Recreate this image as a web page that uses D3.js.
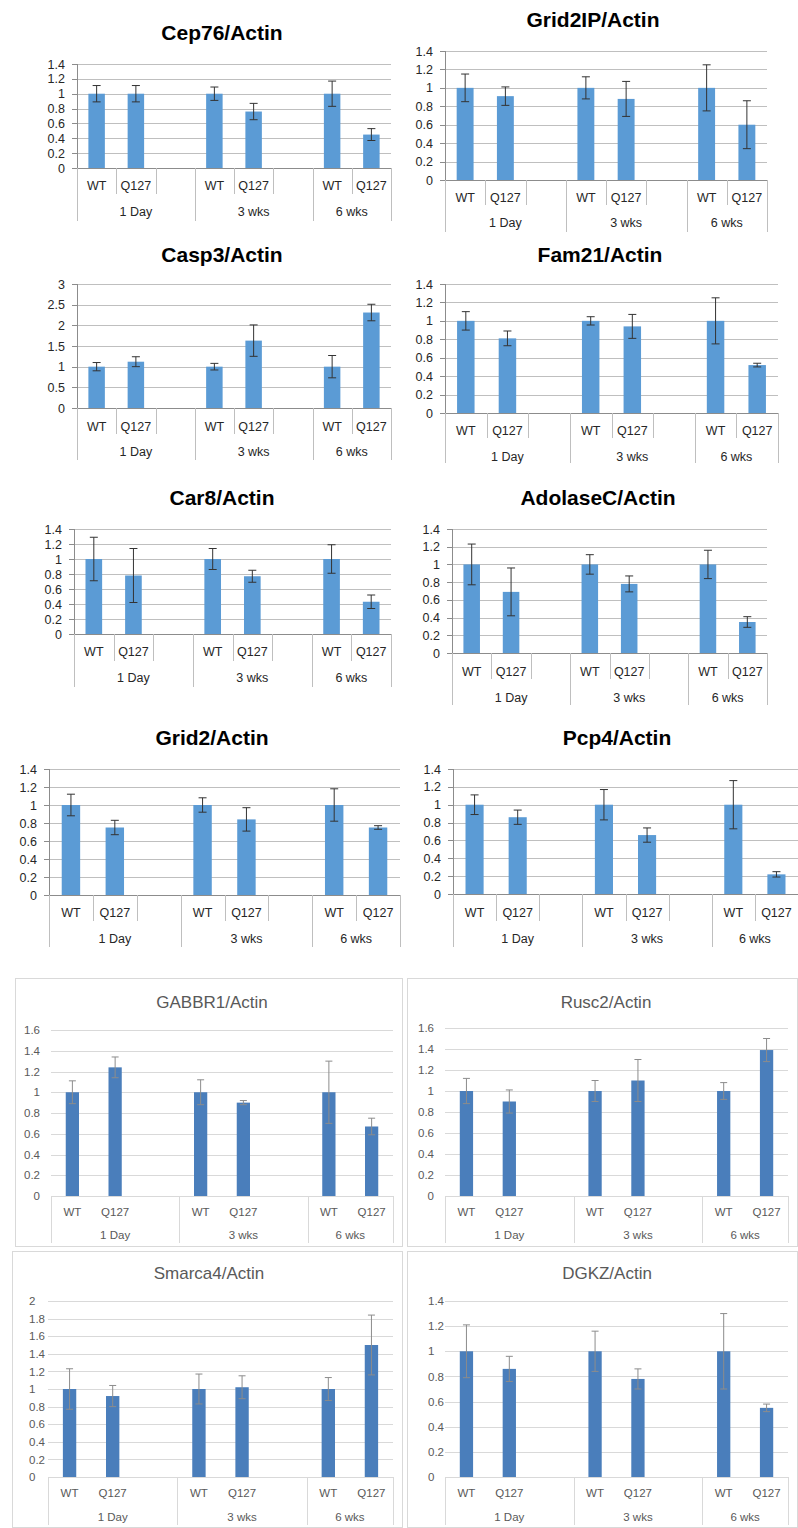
<!DOCTYPE html>
<html>
<head>
<meta charset="utf-8">
<script src="https://cdn.jsdelivr.net/npm/d3@7"></script>
<style>
  body { margin: 0; background: #fff; }
  text { font-family: "Liberation Sans", Arial, sans-serif; }
</style>
</head>
<body>
<svg id="fig" width="798" height="1528"></svg>
<script>
// Categories : 8 slots, the blank ones are Excel's empty columns
const categories = ["WT", "Q127", "", "WT", "Q127", "", "WT", "Q127"];
const timeGroups = ["1 Day", "3 wks", "6 wks"];
const groupSpans = [3, 3, 2];

// Values (WT, Q127) x (1 Day, 3 wks, 6 wks) and their error bars
const cep76 = [1.00, 1.00, 1.00, 0.76, 1.00, 0.45];
const cep76Err = [0.11, 0.11, 0.09, 0.11, 0.17, 0.08];
const grid2ip = [1.00, 0.91, 1.00, 0.88, 1.00, 0.60];
const grid2ipErr = [0.15, 0.10, 0.12, 0.19, 0.25, 0.26];
const casp3 = [1.00, 1.12, 1.00, 1.63, 1.00, 2.31];
const casp3Err = [0.10, 0.12, 0.08, 0.38, 0.27, 0.20];
const fam21 = [1.00, 0.81, 1.00, 0.94, 1.00, 0.52];
const fam21Err = [0.10, 0.08, 0.045, 0.13, 0.25, 0.02];
const car8 = [1.00, 0.78, 1.00, 0.77, 1.00, 0.43];
const car8Err = [0.29, 0.36, 0.14, 0.08, 0.19, 0.09];
const adolaseC = [1.00, 0.69, 1.00, 0.78, 1.00, 0.35];
const adolaseCErr = [0.23, 0.27, 0.11, 0.09, 0.16, 0.06];
const grid2 = [1.00, 0.75, 1.00, 0.84, 1.00, 0.75];
const grid2Err = [0.12, 0.08, 0.08, 0.13, 0.18, 0.02];
const pcp4 = [1.00, 0.86, 1.00, 0.66, 1.00, 0.22];
const pcp4Err = [0.11, 0.08, 0.17, 0.08, 0.27, 0.03];
const gabbr1 = [1.00, 1.24, 1.00, 0.90, 1.00, 0.67];
const gabbr1Err = [0.11, 0.10, 0.12, 0.02, 0.30, 0.08];
const rusc2 = [1.00, 0.90, 1.00, 1.10, 1.00, 1.39];
const rusc2Err = [0.12, 0.11, 0.10, 0.20, 0.08, 0.11];
const smarca4 = [1.00, 0.92, 1.00, 1.02, 1.00, 1.50];
const smarca4Err = [0.23, 0.12, 0.17, 0.13, 0.13, 0.34];
const dgkz = [1.00, 0.86, 1.00, 0.78, 1.00, 0.55];
const dgkzErr = [0.21, 0.10, 0.16, 0.08, 0.30, 0.03];

// slots that hold a bar
const barSlots = categories.map((c, i) => c ? i : -1).filter(i => i >= 0);

// Panel layout (old Excel style = "a", newer boxed style = "b")
const panels = [
  { title: "Cep76/Actin", v: cep76, e: cep76Err, max: 1.4, step: 0.2, kind: "a",
    left: 77, right: 391, top: 64, zero: 168, tx: 222, ty: 33, row1: 186, row2: 212, inner: 194, outer: 221 },
  { title: "Grid2IP/Actin", v: grid2ip, e: grid2ipErr, max: 1.4, step: 0.2, kind: "a",
    left: 445, right: 767, top: 51, zero: 180, tx: 593, ty: 20, row1: 198, row2: 223, inner: 205, outer: 232 },
  { title: "Casp3/Actin", v: casp3, e: casp3Err, max: 3, step: 0.5, kind: "a",
    left: 77, right: 391, top: 284, zero: 408, tx: 222, ty: 255, row1: 427, row2: 452, inner: 434, outer: 460 },
  { title: "Fam21/Actin", v: fam21, e: fam21Err, max: 1.4, step: 0.2, kind: "a",
    left: 445, right: 778, top: 284, zero: 413, tx: 600, ty: 255, row1: 431, row2: 457, inner: 438, outer: 463 },
  { title: "Car8/Actin", v: car8, e: car8Err, max: 1.4, step: 0.2, kind: "a",
    left: 74, right: 391, top: 529, zero: 634, tx: 222, ty: 498, row1: 652, row2: 678, inner: 661, outer: 687 },
  { title: "AdolaseC/Actin", v: adolaseC, e: adolaseCErr, max: 1.4, step: 0.2, kind: "a",
    left: 452, right: 767, top: 529, zero: 653, tx: 598, ty: 498, row1: 672, row2: 698, inner: 679, outer: 705 },
  { title: "Grid2/Actin", v: grid2, e: grid2Err, max: 1.4, step: 0.2, kind: "a",
    left: 49, right: 400, top: 769, zero: 895, tx: 212, ty: 738, row1: 913, row2: 939, inner: 921, outer: 947 },
  { title: "Pcp4/Actin", v: pcp4, e: pcp4Err, max: 1.4, step: 0.2, kind: "a",
    left: 453, right: 798, top: 769, zero: 894, tx: 617, ty: 738, row1: 913, row2: 939, inner: 921, outer: 947 },
  { title: "GABBR1/Actin", v: gabbr1, e: gabbr1Err, max: 1.6, step: 0.2, kind: "b",
    box: [15, 978, 402, 1246], left: 51, right: 393, top: 1030, zero: 1196, tx: 212, ty: 1002,
    row1: 1212, row2: 1235, outer: 1243, labelAnchor: "end", labelX: 40 },
  { title: "Rusc2/Actin", v: rusc2, e: rusc2Err, max: 1.6, step: 0.2, kind: "b",
    box: [407, 978, 797, 1246], left: 445, right: 788, top: 1028, zero: 1196, tx: 606, ty: 1002,
    row1: 1212, row2: 1235, outer: 1243, labelAnchor: "end", labelX: 433 },
  { title: "Smarca4/Actin", v: smarca4, e: smarca4Err, max: 2, step: 0.2, kind: "b",
    box: [12, 1251, 402, 1527], left: 48, right: 393, top: 1301, zero: 1477, tx: 209, ty: 1273,
    row1: 1493, row2: 1517, outer: 1525, labelAnchor: "start", labelX: 29 },
  { title: "DGKZ/Actin", v: dgkz, e: dgkzErr, max: 1.4, step: 0.2, kind: "b",
    box: [407, 1251, 797, 1527], left: 445, right: 788, top: 1301, zero: 1477, tx: 607, ty: 1273,
    row1: 1493, row2: 1517, outer: 1525, labelAnchor: "start", labelX: 428 }
];

const svg = d3.select("#fig");
svg.append("rect").attr("width", 798).attr("height", 1528).attr("fill", "#fff");

const fmt = d => String(+d.toFixed(1));

panels.forEach(p => {
  const old = p.kind === "a";
  const g = svg.append("g");
  const gridColor = old ? "#bfbfbf" : "#d9d9d9";
  const axisColor = old ? "#8c8c8c" : "#d9d9d9";
  const textColor = old ? "#262626" : "#595959";

  if (!old) {
    g.append("rect")
      .attr("x", p.box[0] + 0.5).attr("y", p.box[1] + 0.5)
      .attr("width", p.box[2] - p.box[0]).attr("height", p.box[3] - p.box[1])
      .attr("fill", "#fff").attr("stroke", "#d9d9d9");
  }

  const x = d3.scaleBand()
    .domain(d3.range(categories.length))
    .range([p.left, p.right]);
  const y = d3.scaleLinear()
    .domain([0, p.max])
    .range([p.zero, p.top]);
  const ticks = d3.range(0, p.max + p.step / 2, p.step);

  // Gridlines
  g.append("g")
    .attr("transform", `translate(${p.left},0)`)
    .call(d3.axisLeft(y).tickValues(ticks).tickSize(-(p.right - p.left)).tickFormat(""))
    .call(a => a.select(".domain").remove())
    .call(a => a.selectAll("line").attr("stroke", gridColor).attr("shape-rendering", "crispEdges"));

  // Y labels (+ small outer ticks for the old style)
  const yAxis = g.append("g")
    .attr("transform", `translate(${p.left},0)`)
    .call(d3.axisLeft(y).tickValues(ticks).tickSize(old ? 5 : 0).tickPadding(old ? 7 : 11).tickFormat(fmt));
  yAxis.select(".domain").attr("stroke", old ? axisColor : "none").attr("shape-rendering", "crispEdges");
  yAxis.selectAll("line").attr("stroke", axisColor).attr("shape-rendering", "crispEdges");
  yAxis.selectAll("text")
    .attr("fill", textColor)
    .style("font-size", old ? "12.5px" : "11.5px");
  if (!old && p.labelAnchor === "start") {
    yAxis.selectAll("text").attr("text-anchor", "start").attr("x", p.labelX - p.left);
  }

  // Category axis line
  g.append("line")
    .attr("x1", p.left).attr("x2", p.right)
    .attr("y1", y(0) + 0.5).attr("y2", y(0) + 0.5)
    .attr("stroke", axisColor);

  // Separators
  const bounds = [0];
  groupSpans.forEach(s => bounds.push(bounds[bounds.length - 1] + s));
  const bx = i => (i >= categories.length ? p.right : x(i));
  if (old) {
    d3.range(1, categories.length).filter(i => !bounds.includes(i)).forEach(i => {
      g.append("line")
        .attr("x1", Math.round(bx(i)) + 0.5).attr("x2", Math.round(bx(i)) + 0.5)
        .attr("y1", p.zero).attr("y2", p.inner)
        .attr("stroke", gridColor);
    });
  }
  bounds.forEach(i => {
    g.append("line")
      .attr("x1", Math.round(bx(i)) + 0.5).attr("x2", Math.round(bx(i)) + 0.5)
      .attr("y1", p.zero).attr("y2", p.outer)
      .attr("stroke", old ? gridColor : "#d9d9d9");
  });

  // Category labels
  const fs = old ? "12.5px" : "11.5px";
  g.selectAll("text.cat")
    .data(categories.map((c, i) => ({ c, i })).filter(d => d.c))
    .join("text")
    .attr("class", "cat")
    .attr("x", d => x(d.i) + x.bandwidth() / 2)
    .attr("y", p.row1)
    .attr("dy", "0.35em")
    .attr("text-anchor", "middle")
    .attr("fill", textColor)
    .style("font-size", fs)
    .text(d => d.c);

  g.selectAll("text.grp")
    .data(timeGroups)
    .join("text")
    .attr("class", "grp")
    .attr("x", (d, k) => (bx(bounds[k]) + bx(bounds[k + 1])) / 2)
    .attr("y", p.row2)
    .attr("dy", "0.35em")
    .attr("text-anchor", "middle")
    .attr("fill", textColor)
    .style("font-size", fs)
    .text(d => d);

  // Bars
  const ratio = old ? 0.42 : 0.31;
  const bw = x.bandwidth() * ratio;
  const rows = p.v.map((v, k) => ({ v, e: p.e[k], slot: barSlots[k] }));
  g.selectAll("rect.bar")
    .data(rows)
    .join("rect")
    .attr("class", "bar")
    .attr("x", d => x(d.slot) + (x.bandwidth() - bw) / 2)
    .attr("y", d => y(d.v))
    .attr("width", bw)
    .attr("height", d => y(0) - y(d.v))
    .attr("fill", old ? "#5b9bd5" : "#4a7ebb");

  // Error bars
  const errColor = old ? "#333" : "#8c8c8c";
  const cap = old ? 4 : 3.5;
  const eb = g.selectAll("g.err").data(rows).join("g").attr("class", "err")
    .attr("stroke", errColor).attr("stroke-width", 1);
  eb.append("line")
    .attr("x1", d => x(d.slot) + x.bandwidth() / 2).attr("x2", d => x(d.slot) + x.bandwidth() / 2)
    .attr("y1", d => y(d.v + d.e)).attr("y2", d => y(d.v - d.e));
  eb.append("line")
    .attr("x1", d => x(d.slot) + x.bandwidth() / 2 - cap).attr("x2", d => x(d.slot) + x.bandwidth() / 2 + cap)
    .attr("y1", d => y(d.v + d.e)).attr("y2", d => y(d.v + d.e));
  eb.append("line")
    .attr("x1", d => x(d.slot) + x.bandwidth() / 2 - cap).attr("x2", d => x(d.slot) + x.bandwidth() / 2 + cap)
    .attr("y1", d => y(d.v - d.e)).attr("y2", d => y(d.v - d.e));

  // Title
  g.append("text")
    .attr("x", p.tx).attr("y", p.ty)
    .attr("dy", "0.35em")
    .attr("text-anchor", "middle")
    .attr("fill", old ? "#000" : "#595959")
    .style("font-size", old ? "21px" : "17px")
    .style("font-weight", old ? "bold" : "normal")
    .text(p.title);
});
</script>
</body>
</html>
